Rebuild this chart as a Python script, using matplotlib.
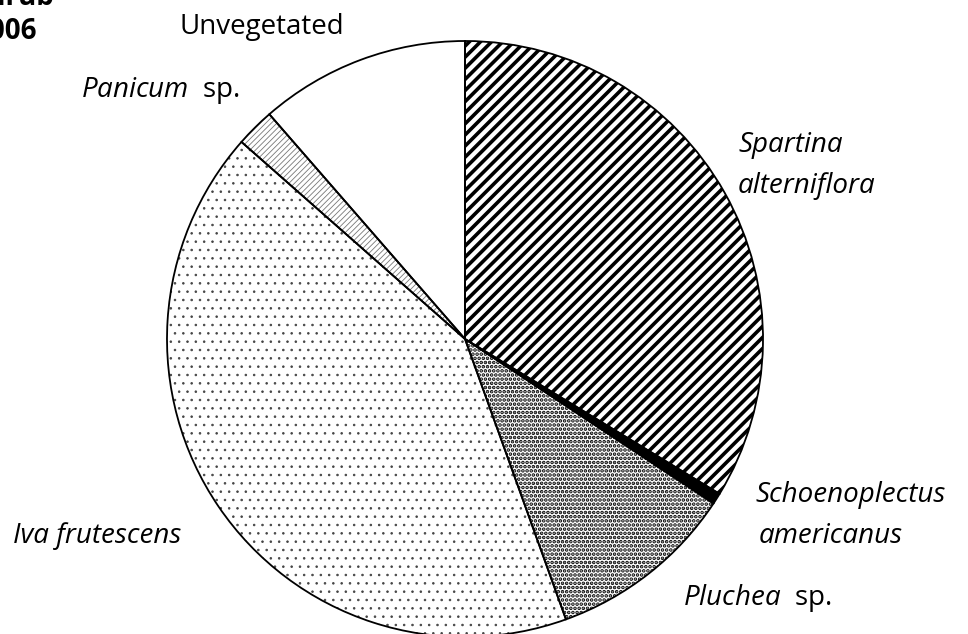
import matplotlib
matplotlib.use('Agg')
import matplotlib.pyplot as plt

plt.rcParams['font.family'] = 'Open Sans'
plt.rcParams['mathtext.fontset'] = 'custom'
plt.rcParams['mathtext.it'] = 'Open Sans:italic'
plt.rcParams['mathtext.rm'] = 'Open Sans'

# cover shares (%), clockwise from 12 o'clock
species = ['Spartina alterniflora', 'Schoenoplectus americanus', 'Pluchea sp.',
           'Iva frutescens', 'Panicum sp.', 'Unvegetated']
shares = [33.7, 0.6, 10.2, 42.0, 2.1, 11.4]

hatches = ['///', None, '....', '..', '//////', None]
hatch_colors = ['black', 'black', 'black', '#444444', '#777777', 'black']
hatch_widths = [2.6, 1.0, 1.8, 0.6, 0.6, 1.0]
faces = ['white', 'black', 'white', 'white', 'white', 'white']

W, H = 968, 634
cx, cy, R = 465, H - 339, 298

fig = plt.figure(figsize=(W / 100, H / 100), dpi=100)
ax = fig.add_axes([0, 0, 1, 1])

# filled + hatched wedges
wedges, _ = ax.pie(shares, startangle=90, counterclock=False, center=(cx, cy),
                   radius=R, colors=faces, hatch=hatches,
                   wedgeprops=dict(linewidth=0))
for w, hc, hl in zip(wedges, hatch_colors, hatch_widths):
    w.set_edgecolor(hc)
    w.set_linewidth(0)
    if hasattr(w, 'set_hatch_linewidth'):
        w.set_hatch_linewidth(hl)

# outlines on top
ax.pie(shares, startangle=90, counterclock=False, center=(cx, cy), radius=R,
       wedgeprops=dict(fill=False, edgecolor='black', linewidth=1.3))

ax.set_xlim(0, W)
ax.set_ylim(0, H)
ax.axis('off')

fs = 20
def label(x, y, s, **kw):
    ax.text(x, H - y, s, fontsize=fs, va='baseline', **kw)

label(262, 34, 'Unvegetated', ha='center')
label(240, 97, r'$\mathit{Panicum}$  sp.', ha='right')
label(738, 152, 'Spartina', style='italic')
label(738, 193, 'alterniflora', style='italic')
label(755, 502, 'Schoenoplectus', style='italic')
label(759, 543, 'americanus', style='italic')
label(683, 605, r'$\mathit{Pluchea}$  sp.')
label(13, 543, 'Iva frutescens', style='italic')

# title, partly cut off at the left edge
ax.text(55, H - 5, 'Shrub', fontsize=fs, weight='bold', ha='right', va='baseline')
ax.text(37, H - 39, '2006', fontsize=fs, weight='bold', ha='right', va='baseline')

fig.savefig('out.png', dpi=100)
